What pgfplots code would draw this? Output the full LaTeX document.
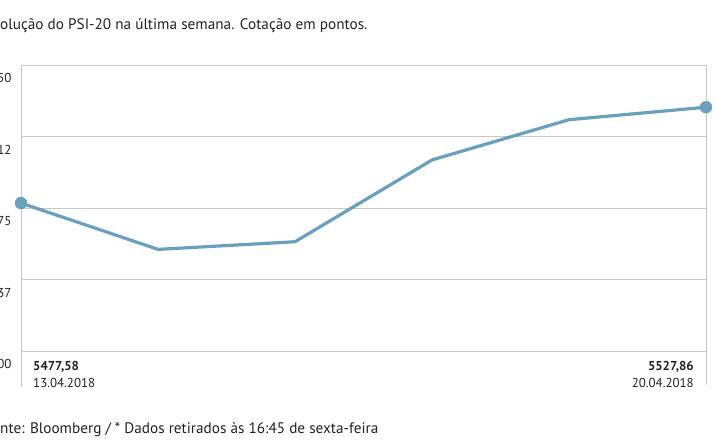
\documentclass[border=0pt]{standalone}
\usepackage{pgfplots}
\pgfplotsset{compat=1.18}
\usepackage{fontspec}
\setmainfont{PT Sans}
\definecolor{psiline}{RGB}{104,160,189}
\definecolor{gridgray}{RGB}{200,200,200}
\definecolor{txt}{RGB}{35,35,35}

\begin{document}
\begin{tikzpicture}
\begin{axis}[
  name=ax,
  scale only axis,
  width=685bp, height=286bp,
  xmin=0, xmax=5, ymin=5400, ymax=5550,
  ytick={5400,5437.5,5475,5512.5,5550},
  yticklabels={5400,5437,5475,5512,5550},
  xtick=\empty,
  ymajorgrids,
  grid style={gridgray, line width=0.8bp},
  axis line style={gridgray, line width=0.8bp},
  major tick length=0pt,
  yticklabel style={font=\fontsize{13}{15}\selectfont, text=txt,
    anchor=east, xshift=-6bp, yshift=-13bp},
  clip=false,
]
% PSI-20, fecho diario 13.04 a 20.04.2018
\addplot[psiline, line width=3.2bp, line join=round] coordinates {
  (0,5477.58) (1,5453.3) (2,5457.3) (3,5500.2) (4,5521.3) (5,5527.86)
};
\addplot[only marks, mark=*, mark size=6bp, psiline] coordinates {
  (0,5477.58) (5,5527.86)
};
\end{axis}

% vertical lines running down past the axis
\draw[gridgray, line width=0.8bp] (ax.south west) -- ++(0,-36bp);
\draw[gridgray, line width=0.8bp] (ax.south east) -- ++(0,-34bp);

% first and last value
\node[anchor=west, inner sep=0, text=txt, font=\fontsize{13}{15}\selectfont\bfseries]
  at ([shift={(12bp,-16bp)}]ax.south west) {5477,58};
\node[anchor=west, inner sep=0, text=txt, font=\fontsize{13}{15}\selectfont]
  at ([shift={(12bp,-32bp)}]ax.south west) {13.04.2018};
\node[anchor=east, inner sep=0, text=txt, font=\fontsize{13}{15}\selectfont\bfseries]
  at ([shift={(-12bp,-16bp)}]ax.south east) {5527,86};
\node[anchor=east, inner sep=0, text=txt, font=\fontsize{13}{15}\selectfont]
  at ([shift={(-12bp,-32bp)}]ax.south east) {20.04.2018};

% title and source, cut at the left edge as in the reference
\node[anchor=west, inner sep=0, text=txt, font=\fontsize{15.3}{18}\selectfont]
  at ([shift={(-21bp,39bp)}]ax.north west)
  {\llap{Ev}olução do PSI-20 na última semana. Cotação em pontos.};
\node[anchor=west, inner sep=0, text=txt, font=\fontsize{15.3}{18}\selectfont]
  at ([shift={(-21bp,-79bp)}]ax.south west)
  {\llap{Fo}nte: Bloomberg / * Dados retirados às 16:45 de sexta-feira};

\pgfresetboundingbox
\useasboundingbox ([shift={(-21bp,65bp)}]ax.north west)
  rectangle ([shift={(9bp,-94bp)}]ax.south east);
\end{tikzpicture}
\end{document}
